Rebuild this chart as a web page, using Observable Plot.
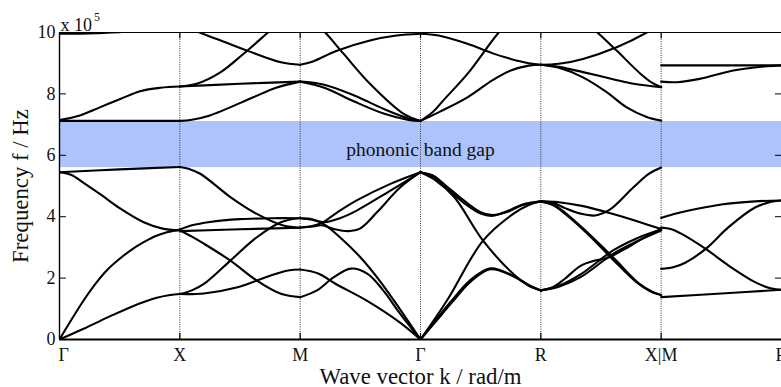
<!DOCTYPE html>
<html>
<head>
<meta charset="utf-8">
<script src="https://cdn.jsdelivr.net/npm/d3@7"></script>
<script src="https://cdn.jsdelivr.net/npm/@observablehq/plot@0.6"></script>
<style>
  html, body { margin: 0; padding: 0; background: #fff; }
</style>
</head>
<body>
<div id="chart"></div>
<script>
// High-symmetry points along the path (k index) and their labels
const kTicks = [0, 1, 2, 3, 4, 5, 6];
const kLabels = ["Γ", "X", "M", "Γ", "R", "X|M", "R"];
const yTicks = [0, 2, 4, 6, 8, 10];
const gapLow = 5.6, gapHigh = 7.1;      // phononic band gap (x 10^5 Hz)

// Bands per segment: each band is a list of [k, f] points (f in 10^5 Hz)
const bandsGX = [
  [[0,0],[0.2,0.35],[0.4,0.72],[0.6,1.07],[0.8,1.35],[0.92,1.45],[1,1.48]],
  [[0,0],[0.1,0.65],[0.2,1.27],[0.3,1.82],[0.4,2.28],[0.5,2.63],[0.6,2.93],[0.7,3.17],[0.8,3.37],[0.9,3.5],[1,3.58]],
  [[0,5.45],[0.1,5.36],[0.2,5.1],[0.35,4.7],[0.5,4.28],[0.7,3.82],[0.85,3.62],[1,3.55]],
  [[0,5.45],[0.5,5.54],[1,5.62]],
  [[0,7.12],[1,7.12]],
  [[0,7.15],[0.17,7.3],[0.34,7.57],[0.51,7.84],[0.67,8.09],[0.84,8.2],[1,8.24]],
  [[0,9.96],[0.3,9.98],[0.6,10.05],[0.9,10.3]]
];
const bandsXM = [
  [[1,1.48],[1.2,1.5],[1.48,1.7],[1.75,2.08],[1.9,2.25],[2,2.28]],
  [[1,1.48],[1.1,1.6],[1.2,1.81],[1.42,2.57],[1.64,3.33],[1.84,3.82],[2,3.96]],
  [[1,3.55],[1.1,3.35],[1.2,3.12],[1.42,2.57],[1.64,1.92],[1.84,1.49],[2,1.38]],
  [[1,3.58],[1.1,3.72],[1.25,3.83],[1.5,3.92],[1.75,3.95],[2,3.95]],
  [[1,3.53],[1.5,3.59],[2,3.64]],
  [[1,5.62],[1.08,5.55],[1.17,5.4],[1.42,4.64],[1.64,4.09],[1.86,3.71],[2,3.64]],
  [[1,7.12],[1.1,7.16],[1.25,7.3],[1.61,7.89],[1.8,8.2],[2,8.4]],
  [[1,8.24],[1.5,8.33],[2,8.4]],
  [[1,8.24],[1.14,8.33],[1.34,8.71],[1.53,9.31],[1.73,9.99],[1.85,10.4]],
  [[1,10.3],[1.17,9.99],[1.34,9.74],[1.56,9.41],[1.84,9.03],[2,8.95]]
];
const bandsMG = [
  [[2,1.38],[2.14,1.6],[2.28,2.03],[2.42,2.31],[2.56,2.14],[2.69,1.6],[2.83,0.84],[3,0]],
  [[2,2.28],[2.15,2.15],[2.3,1.8],[2.56,1.25],[2.83,0.55],[3,0]],
  [[2,3.95],[2.1,3.92],[2.2,3.75],[2.33,3.33],[2.5,2.68],[2.66,1.92],[2.83,0.98],[3,0]],
  [[2,3.65],[2.1,3.7],[2.18,3.8],[2.3,4.12],[2.47,4.53],[2.75,5.07],[3,5.45]],
  [[2,3.95],[2.1,3.9],[2.2,3.82],[2.33,3.95],[2.47,4.2],[2.75,4.85],[3,5.45]],
  [[2,3.65],[2.1,3.68],[2.18,3.72],[2.28,3.6],[2.4,3.53],[2.5,3.62],[2.64,4.15],[2.83,4.95],[3,5.45]],
  [[2,8.4],[2.2,8.3],[2.45,7.95],[2.7,7.5],[2.9,7.2],[3,7.12]],
  [[2,8.4],[2.2,8.2],[2.45,7.75],[2.7,7.35],[2.9,7.15],[3,7.12]],
  [[2,8.95],[2.1,9.05],[2.3,9.4],[2.58,9.74],[2.8,9.9],[3,9.96]],
  [[2.1,10.4],[2.21,9.99],[2.36,9.31],[2.58,8.33],[2.86,7.35],[3,7.12]]
];
const bandsGR = [
  [[3,0],[3.13,0.65],[3.26,1.27],[3.41,1.92],[3.58,2.32],[3.77,2.08],[3.9,1.78],[4,1.6]],
  [[3,0],[3.13,0.6],[3.26,1.2],[3.41,1.86],[3.58,2.29],[3.77,2.06],[3.9,1.76],[4,1.6]],
  [[3,0],[3.22,1.27],[3.52,3.22],[3.77,4.09],[3.9,4.38],[4,4.5]],
  [[3,5.45],[3.12,5.2],[3.28,4.64],[3.52,3.22],[3.77,2.14],[3.9,1.75],[4,1.6]],
  [[3,5.45],[3.1,5.35],[3.2,5.05],[3.36,4.53],[3.5,4.15],[3.6,4.05],[3.72,4.15],[3.85,4.38],[4,4.5]],
  [[3,5.45],[3.1,5.3],[3.2,4.98],[3.36,4.45],[3.5,4.1],[3.6,4.03],[3.72,4.18],[3.85,4.4],[4,4.5]],
  [[3,9.96],[3.15,9.9],[3.39,9.63],[3.6,9.32],[3.75,9.14],[3.9,9.0],[4,8.95]],
  [[3,7.12],[3.15,7.4],[3.39,7.89],[3.6,8.45],[3.75,8.76],[3.9,8.92],[4,8.95]],
  [[3,7.12],[3.1,7.4],[3.19,7.79],[3.39,8.65],[3.65,10.0],[3.8,10.6]]
];
const bandsRX = [
  [[4,4.5],[4.15,4.47],[4.33,4.36],[4.6,4.09],[4.8,3.85],[5,3.6]],
  [[4,4.5],[4.1,4.45],[4.2,4.28],[4.33,4.1],[4.45,4.04],[4.57,4.22],[4.77,4.96],[4.9,5.4],[5,5.6]],
  [[4,4.5],[4.1,4.4],[4.18,4.2],[4.37,3.55],[4.6,2.68],[4.82,1.81],[4.93,1.55],[5,1.45]],
  [[4,4.5],[4.1,4.38],[4.2,4.1],[4.4,3.4],[4.6,2.6],[4.8,1.85],[4.93,1.53],[5,1.45]],
  [[4,1.6],[4.1,1.7],[4.2,1.98],[4.33,2.4],[4.45,2.57],[4.55,2.65],[4.7,2.95],[4.85,3.3],[5,3.6]],
  [[4,1.6],[4.15,1.72],[4.33,2.03],[4.6,2.79],[4.8,3.2],[5,3.55]],
  [[4,1.6],[4.15,1.75],[4.33,2.12],[4.6,2.9],[4.8,3.3],[5,3.58]],
  [[4,8.95],[4.15,8.98],[4.35,9.14],[4.63,9.52],[4.88,10.0],[5,10.3]],
  [[4,8.95],[4.15,8.88],[4.35,8.71],[4.6,8.48],[4.77,8.33],[5,8.22]],
  [[4,8.95],[4.15,8.85],[4.35,8.54],[4.55,8.05],[4.71,7.57],[4.88,7.25],[5,7.13]],
  [[4.35,10.4],[4.47,10.0],[4.63,9.41],[4.83,8.65],[4.93,8.35],[5,8.22]]
];
const bandsMR = [
  [[5,3.96],[5.1,4.08],[5.23,4.2],[5.5,4.4],[5.78,4.5],[6,4.53]],
  [[5,2.3],[5.1,2.35],[5.2,2.5],[5.37,2.95],[5.56,3.66],[5.78,4.3],[5.9,4.47],[6,4.53]],
  [[5,3.65],[5.08,3.6],[5.17,3.44],[5.37,2.95],[5.56,2.41],[5.78,1.87],[5.9,1.68],[6,1.62]],
  [[5,1.38],[5.5,1.5],[6,1.62]],
  [[5,8.93],[6,8.93]],
  [[5,8.4],[5.13,8.38],[5.32,8.49],[5.6,8.76],[5.88,8.9],[6,8.93]]
];

// Flatten into rows for Plot
const segments = [bandsGX, bandsXM, bandsMG, bandsGR, bandsRX, bandsMR];
const rows = [];
segments.forEach((seg, s) => seg.forEach((band, b) =>
  band.forEach(([k, f]) => rows.push({k, f, id: `${s}-${b}`}))));

const serif = "'Liberation Serif', 'Times New Roman', serif";
const inner = kTicks.slice(1, kTicks.length - 1);
const kMin = kTicks[0], kMax = kTicks[kTicks.length - 1];
const yMin = yTicks[0], yMax = yTicks[yTicks.length - 1];

const chart = Plot.plot({
  width: 781,
  height: 387,
  marginLeft: 59,
  marginRight: 0,
  marginTop: 32,
  marginBottom: 48,
  x: {domain: [kMin, kMax], axis: null},
  y: {domain: [yMin, yMax], axis: null},
  style: {fontFamily: serif, background: "#fff", overflow: "visible", color: "#111"},
  marks: [
    Plot.rect([0], {x1: kMin, x2: kMax, y1: gapLow, y2: gapHigh, fill: "#aec3fb"}),
    Plot.ruleX(inner, {x: d => d, stroke: "#333", strokeWidth: 1, strokeDasharray: "1,1.3"}),
    Plot.line(rows, {x: "k", y: "f", z: "id", curve: "catmull-rom", stroke: "#000", strokeWidth: 2.1, clip: true}),
    // frame
    Plot.ruleY([yMin], {stroke: "#000", strokeWidth: 2}),
    Plot.ruleY([yMax], {stroke: "#000", strokeWidth: 1.2}),
    Plot.ruleX([kMin], {stroke: "#000", strokeWidth: 1.4}),
    // inward ticks
    Plot.ruleY(yTicks, {y: d => d, x1: kMin, x2: kMin + 0.058, stroke: "#000", strokeWidth: 1}),
    Plot.ruleY(yTicks, {y: d => d, x1: kMax - 0.05, x2: kMax, stroke: "#000", strokeWidth: 1}),
    Plot.ruleX(inner, {x: d => d, y1: yMin, y2: yMin + 0.2, stroke: "#000", strokeWidth: 1.2}),
    Plot.ruleX(inner, {x: d => d, y1: yMax - 0.2, y2: yMax, stroke: "#000", strokeWidth: 1.2}),
    // y tick labels
    Plot.text(yTicks, {x: kMin, y: d => d, text: d => String(d), textAnchor: "end", dx: -4, fontSize: 18, fill: "#111"}),
    // x tick labels
    Plot.text(kTicks.slice(0, 1), {x: d => d, y: yMin, text: () => kLabels[0], textAnchor: "start", dx: -1, dy: 16, fontSize: 18, fill: "#111"}),
    Plot.text(kTicks.slice(1), {x: d => d, y: yMin, text: (d, i) => kLabels[i + 1], dy: 16, fontSize: 18, fill: "#111"}),
    // scale factor
    Plot.text(["x 10"], {frameAnchor: "top-left", text: d => d, textAnchor: "start", lineAnchor: "bottom", dx: 1, dy: -2, fontSize: 18, fill: "#111"}),
    Plot.text(["5"], {frameAnchor: "top-left", text: d => d, textAnchor: "start", lineAnchor: "bottom", dx: 34.5, dy: -12, fontSize: 12, fill: "#111"}),
    // band gap label
    Plot.text(["phononic band gap"], {x: (kMin + kMax) / 2, y: (gapLow + gapHigh) / 2, text: d => d, dy: 5, fontSize: 19.5, fill: "#111"}),
    // axis labels
    Plot.text(["Wave vector k / rad/m"], {frameAnchor: "bottom", text: d => d, lineAnchor: "bottom", dy: 44, fontSize: 22.8, fill: "#111"}),
    Plot.text(["Frequency f / Hz"], {frameAnchor: "left", text: d => d, rotate: -90, textAnchor: "middle", lineAnchor: "middle", dx: -39, fontSize: 22.8, fill: "#111"})
  ]
});
document.getElementById("chart").appendChild(chart);
</script>
</body>
</html>
